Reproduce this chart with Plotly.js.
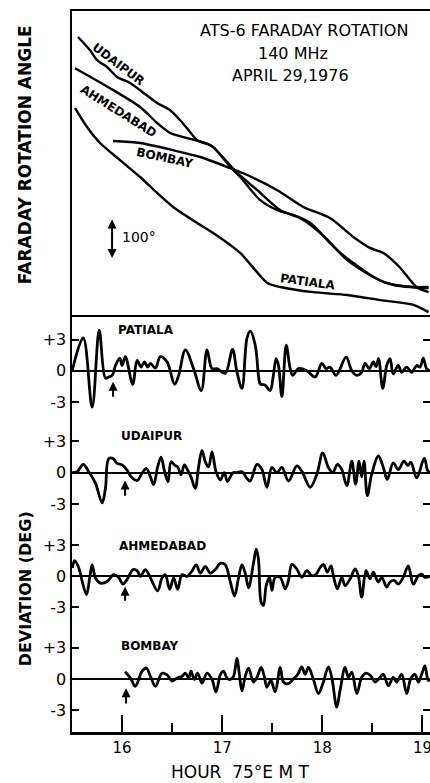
<!DOCTYPE html>
<html><head><meta charset="utf-8">
<script src="https://cdn.plot.ly/plotly-3.0.1.min.js"></script>
<style>html,body{margin:0;padding:0;background:#fff;overflow:hidden}</style>
</head><body><div id="chart" style="width:430px;height:783px"></div>
<script>
// ---- Faraday rotation angle (relative, degrees) vs hour 75°E MT ----
const udaipurRotHour = [15.56,15.68,15.75,15.85,15.95,16.08,16.18,16.35,16.48,16.58,16.68,16.75,16.91,17.08,17.18,17.38,17.55,17.71,17.88,18.05,18.25,18.44,18.64,18.90,19.06];
const udaipurRot     = [695,662,637,620,595,580,562,530,512,487,457,437,420,370,345,287,262,250,230,187,137,105,80,70,70];
const ahmedabadRotHour = [15.53,15.88,16.18,16.35,16.48,16.65,16.88,17.15,17.35,17.58,17.78,17.98,18.18,18.31,18.51,18.71,19.06];
const ahmedabadRot     = [617,567,520,480,455,442,425,355,312,262,242,205,155,130,95,75,67];
const bombayRotHour = [15.91,16.18,16.51,16.78,17.08,17.25,17.55,17.81,18.08,18.31,18.48,18.61,18.77,18.94,19.06];
const bombayRot     = [435,430,412,395,367,350,312,270,242,195,167,155,120,70,57];
const patialaRotHour = [15.53,15.65,15.78,15.98,16.18,16.35,16.51,16.75,16.91,17.18,17.45,17.58,17.91,18.25,18.58,18.91,19.06];
const patialaRot     = [517,470,430,387,345,305,270,230,205,155,80,70,57,50,37,25,7];
const scaleBarDeg = 100;

// ---- Deviation (deg) ----
const patialaDevHour = [15.502,15.612,15.701,15.772,15.834,15.867,15.901,15.934,15.977,16.001,16.033,16.106,16.150,16.190,16.223,16.256,16.283,16.333,16.382,16.449,16.525,16.565,16.632,16.714,16.791,16.848,16.898,16.948,17.030,17.103,17.147,17.197,17.247,17.280,17.330,17.362,17.379,17.429,17.479,17.506,17.539,17.562,17.596,17.639,17.679,17.705,17.761,17.845,17.928,17.995,18.037,18.077,18.137,18.237,18.294,18.344,18.393,18.426,18.469,18.509,18.536,18.561,18.603,18.643,18.676,18.708,18.758,18.792,18.842,18.892,18.942,18.975,19.008,19.041,19.074];
const patialaDev = [0,3.15,-3.5,3.9,-0.7,-0.6,-0.45,0.5,1.2,0.5,1.35,-1.3,1.0,0.35,0.85,0.35,0.7,0.25,1.35,0.85,-1.3,-0.45,2.0,0.2,-1.9,2.0,0.2,0.2,-0.25,2.05,-0.1,-1.7,3.1,3.8,2.45,-0.45,-1.25,-1.4,-1.9,-0.75,1.15,0.5,-2.5,2.45,0.2,-0.45,0.2,0,-0.6,0.7,0.2,0.35,-0.45,1.3,0,-0.45,-0.15,0.7,0.2,0.85,0.4,1.15,-1.7,0.5,1.15,-0.3,0.5,-0.15,0.35,-0.15,0.5,0.35,1.2,0.2,0];

const udaipurDevHour = [15.502,15.552,15.612,15.667,15.734,15.801,15.834,15.867,15.911,15.951,16.001,16.050,16.090,16.150,16.200,16.243,16.283,16.316,16.355,16.389,16.425,16.459,16.489,16.522,16.555,16.589,16.622,16.655,16.688,16.731,16.764,16.798,16.831,16.864,16.898,16.938,16.981,17.020,17.053,17.107,17.147,17.197,17.247,17.280,17.347,17.397,17.446,17.496,17.546,17.596,17.662,17.745,17.795,17.878,17.945,18.004,18.060,18.104,18.150,18.194,18.244,18.294,18.332,18.366,18.393,18.416,18.449,18.493,18.559,18.609,18.649,18.708,18.758,18.815,18.855,18.885,18.942,19.018,19.051,19.074];
const udaipurDev = [0,0.1,0.8,0.1,-1.0,-2.9,-1.5,1.35,1.35,0.9,0.75,0.25,-0.4,-0.75,-0.05,0.4,-0.4,-1.15,0.55,1.5,0.1,-0.85,1.05,0.75,0.55,-0.2,0.75,0.25,-0.4,-1.5,0.55,2.15,1.05,0.55,2.0,0.1,-0.7,0,-0.85,0,0,0.1,-0.55,-0.8,0.8,0.3,-1.4,0.5,0,0.5,-0.8,0.65,0.15,-1.4,-0.15,1.9,0.5,0,0.8,0.3,-1.25,1.1,-1.1,1.1,-0.4,1.1,-2.2,-0.15,1.6,0.5,-0.65,0.95,0.3,1.1,0.7,1.0,-0.5,1.4,0.2,0];

const ahmedabadDevHour = [15.505,15.525,15.568,15.602,15.645,15.677,15.701,15.734,15.784,15.851,15.917,15.967,16.010,16.050,16.110,16.150,16.183,16.233,16.283,16.355,16.399,16.432,16.475,16.515,16.555,16.599,16.649,16.698,16.741,16.781,16.831,16.881,16.931,16.981,17.030,17.080,17.123,17.163,17.197,17.230,17.263,17.313,17.340,17.362,17.389,17.412,17.439,17.472,17.496,17.529,17.579,17.629,17.662,17.695,17.745,17.795,17.845,17.895,17.938,17.978,18.011,18.050,18.087,18.110,18.150,18.194,18.227,18.277,18.327,18.359,18.393,18.436,18.476,18.509,18.559,18.593,18.643,18.676,18.718,18.758,18.808,18.858,18.908,18.958,18.992,19.024,19.074];
const ahmedabadDev = [0.8,1.5,0.8,-0.5,-1.75,-0.15,1.1,-0.15,-0.65,-0.5,0.15,-0.15,-0.75,-0.3,0.65,0.55,0,0.65,-0.15,-1.4,-0.15,0.15,-1.25,-0.15,-1.25,0.15,0,0.5,1.1,0.3,0.95,0.3,0.65,1.25,1.1,-0.5,-1.9,-0.15,1.1,0.3,-1.1,1.3,2.6,1.65,-2.5,-2.8,-0.9,-0.1,-1.35,-0.1,-0.1,-1.2,-0.4,1.15,0.7,-0.1,0.55,0.05,0.2,0.85,1.15,0.4,1.0,0.05,-1.2,-0.1,-0.9,-0.25,0.7,0.05,-2.0,0.55,-0.25,0.4,-0.55,-0.1,-1.05,-0.55,-0.4,-0.75,-0.1,1.0,-0.75,0.05,0.2,-0.1,0];

const bombayDevHour = [16.030,16.083,16.132,16.200,16.243,16.283,16.333,16.399,16.449,16.499,16.549,16.599,16.632,16.665,16.688,16.721,16.754,16.798,16.848,16.898,16.938,16.981,17.013,17.047,17.080,17.113,17.147,17.170,17.197,17.230,17.263,17.313,17.347,17.389,17.419,17.446,17.486,17.529,17.579,17.612,17.662,17.711,17.755,17.795,17.828,17.861,17.905,17.961,18.005,18.060,18.094,18.144,18.177,18.227,18.260,18.294,18.344,18.393,18.436,18.483,18.526,18.576,18.609,18.659,18.708,18.742,18.792,18.842,18.882,18.925,18.958,18.992,19.024,19.057,19.074];
const bombayDev = [0.7,0.1,-0.7,0.75,1.05,0.25,-0.7,0.55,0.4,-0.2,0.1,0.25,0.55,0.1,0.75,-0.05,0.55,-0.4,0.55,-0.05,-1.25,0.4,0.75,0.1,-0.05,0.25,2.0,0.55,-1.15,0.25,1.05,-0.3,0.15,1.1,0.3,-0.8,-0.15,-1.25,1.1,-0.3,-0.45,0,0.45,1.15,0.45,1.1,0.15,-1.4,-0.45,1.15,0.15,-2.7,-1.1,1.1,0.15,0.65,-1.4,0.15,0.55,0.3,-0.3,0.15,0.45,-0.65,0.15,-0.3,0.45,-1.4,0,0.45,-0.3,0.45,1.25,-0.15,0];

const stationNames = ['PATIALA','UDAIPUR','AHMEDABAD','BOMBAY'];
const onsetHour = [15.91, 16.03, 16.03, 16.04];
const devTickVals = [-3, 0, 3];
const devTickText = ['-3', '0', '+3'];
const hourTicks = [16, 17, 18, 19];

// ---- build ----
const FONT = 'DejaVu Sans, sans-serif';
const BLACK = '#000';
const xRange = [15.5, 19.075];

const traces = [];
function topTrace(x, y) {
  traces.push({x, y, xaxis: 'x2', yaxis: 'y', mode: 'lines', hoverinfo: 'skip',
    line: {color: BLACK, width: 2.4, shape: 'spline', smoothing: 0.7}});
}
topTrace(udaipurRotHour, udaipurRot);
topTrace(ahmedabadRotHour, ahmedabadRot);
topTrace(bombayRotHour, bombayRot);
topTrace(patialaRotHour, patialaRot);

const devSeries = [[patialaDevHour, patialaDev],[udaipurDevHour, udaipurDev],[ahmedabadDevHour, ahmedabadDev],[bombayDevHour, bombayDev]];
const stripAxes = ['y2','y3','y4','y5'];
devSeries.forEach((s, i) => {
  traces.push({x: s[0], y: s[1], xaxis: 'x', yaxis: stripAxes[i], mode: 'lines', hoverinfo: 'skip',
    line: {color: BLACK, width: 2.8, shape: 'spline', smoothing: 1}});
});

const stripDomains = [[0.4304,0.5784],[0.2875,0.4304],[0.1447,0.2875],[0,0.1447]];
const stripRanges = [[-4.9,5.36],[-5.0,4.9],[-4.94,4.96],[-5.1,4.93]];
const labelY = [3.9, 3.5, 2.95, 3.2];
const labelX = [15.935, 15.965, 15.948, 15.965];
const arrowTip = [-1.05, -0.75, -1.0, -0.9];
const arrowTail = [-2.65, -2.35, -2.5, -2.5];

const layout = {
  width: 430, height: 783, autosize: false,
  margin: {l: 72, r: 0, t: 11, b: 51, pad: 0},
  paper_bgcolor: '#fff', plot_bgcolor: 'rgba(0,0,0,0)',
  showlegend: false,
  font: {family: FONT, color: BLACK},
  xaxis: {domain: [0,1], range: xRange, anchor: 'y5', showline: true, linewidth: 2.5, linecolor: BLACK,
    ticks: 'inside', ticklen: 17, tickwidth: 2, tickcolor: BLACK,
    tickmode: 'array', tickvals: hourTicks, ticktext: hourTicks.map(String),
    minor: {ticks: 'inside', tickmode: 'linear', tick0: 15.5, dtick: 0.5, ticklen: 9, tickwidth: 2, tickcolor: BLACK, showgrid: false},
    showgrid: false, zeroline: false, ticklabeloverflow: 'allow',
    tickfont: {family: FONT, size: 15, color: BLACK}},
  xaxis2: {domain: [0,1], range: xRange, anchor: 'y', showline: true, mirror: true, linewidth: 2.5, linecolor: BLACK,
    ticks: '', showticklabels: false, showgrid: false, zeroline: false},
  yaxis: {domain: [0.5784, 1], range: [0, 760], anchor: 'x2', showline: true, linewidth: 2.5, linecolor: BLACK,
    ticks: '', showticklabels: false, showgrid: false, zeroline: false},
  annotations: []
};
stripAxes.forEach((ax, i) => {
  layout['yaxis' + ax.slice(1)] = {
    domain: stripDomains[i], range: stripRanges[i], anchor: 'x',
    showline: true, linewidth: 2.5, linecolor: BLACK, mirror: 'ticks',
    ticks: 'inside', ticklen: 7, tickwidth: 2, tickcolor: BLACK,
    tickmode: 'array', tickvals: devTickVals, ticktext: devTickText,
    tickfont: {family: FONT, size: 16, color: BLACK},
    showgrid: false, zeroline: true, zerolinewidth: 1.8, zerolinecolor: BLACK
  };
  layout.annotations.push({x: labelX[i], y: labelY[i], xref: 'x', yref: ax, text: '<b>' + stationNames[i] + '</b>',
    showarrow: false, xanchor: 'left', yanchor: 'middle', font: {family: FONT, size: 12, color: BLACK}});
  layout.annotations.push({x: onsetHour[i], y: arrowTip[i], xref: 'x', yref: ax,
    ax: onsetHour[i], ay: arrowTail[i], axref: 'x', ayref: ax, text: '', showarrow: true,
    arrowhead: 2, arrowsize: 0.9, arrowwidth: 2, arrowcolor: BLACK, standoff: 0});
});

// Top panel texts
const ann = layout.annotations;
ann.push({x: 0.648, y: 0.9736, xref: 'paper', yref: 'paper', text: 'ATS-6 FARADAY ROTATION', showarrow: false,
  font: {family: FONT, size: 16, color: BLACK}, xanchor: 'center', yanchor: 'middle'});
ann.push({x: 0.616, y: 0.9417, xref: 'paper', yref: 'paper', text: '140 MHz', showarrow: false,
  font: {family: FONT, size: 16, color: BLACK}, xanchor: 'center', yanchor: 'middle'});
ann.push({x: 0.609, y: 0.9112, xref: 'paper', yref: 'paper', text: 'APRIL 29,1976', showarrow: false,
  font: {family: FONT, size: 16, color: BLACK}, xanchor: 'center', yanchor: 'middle'});
// Curve labels in top panel
const curveLbl = [
  ['UDAIPUR', 15.96, 628, 37],
  ['AHMEDABAD', 15.96, 510, 32],
  ['BOMBAY', 16.43, 393, 12],
  ['PATIALA', 17.86, 82, 8]
];
curveLbl.forEach(c => ann.push({x: c[1], y: c[2], xref: 'x2', yref: 'y', text: '<b>' + c[0] + '</b>', showarrow: false,
  textangle: c[3], font: {family: FONT, size: 12, color: BLACK}, xanchor: 'center', yanchor: 'middle'}));
// 100 degree scale bar
ann.push({x: 15.9, y: 142.5, xref: 'x2', yref: 'y', ax: 15.9, ay: 142.5 + scaleBarDeg, axref: 'x2', ayref: 'y',
  text: '', showarrow: true, arrowside: 'end+start', arrowhead: 2, arrowsize: 0.9, arrowwidth: 2, arrowcolor: BLACK, standoff: 0});
ann.push({x: 15.975, y: 195, xref: 'x2', yref: 'y', text: String(scaleBarDeg) + '°', showarrow: false,
  xanchor: 'left', yanchor: 'middle', font: {family: FONT, size: 14, color: BLACK}});
// axis titles
ann.push({x: -0.131, y: 0.80, xref: 'paper', yref: 'paper', text: '<b>FARADAY ROTATION ANGLE</b>', showarrow: false,
  textangle: -90, font: {family: FONT, size: 17, color: BLACK}, xanchor: 'center', yanchor: 'middle'});
ann.push({x: -0.131, y: 0.198, xref: 'paper', yref: 'paper', text: '<b>DEVIATION (DEG)</b>', showarrow: false,
  textangle: -90, font: {family: FONT, size: 16, color: BLACK}, xanchor: 'center', yanchor: 'middle'});
ann.push({x: 0.472, y: -0.0555, xref: 'paper', yref: 'paper', text: 'HOUR  75°E M T', showarrow: false,
  font: {family: FONT, size: 17, color: BLACK}, xanchor: 'center', yanchor: 'middle'});

Plotly.newPlot('chart', traces, layout, {displayModeBar: false, staticPlot: true});
</script>
</body></html>
